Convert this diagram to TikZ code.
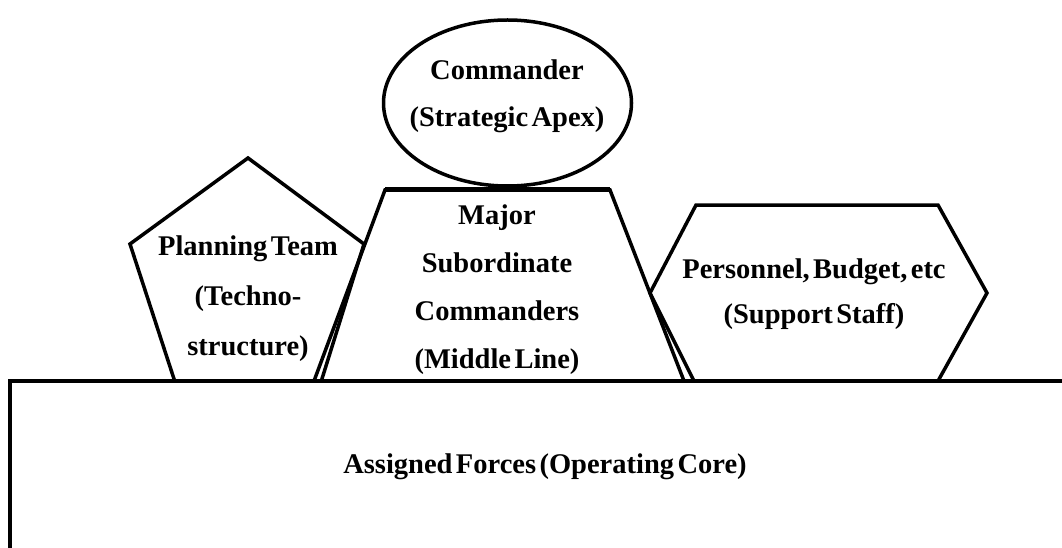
\documentclass[tikz,border=0pt]{standalone}
\usepackage{fontspec}
\setmainfont{Liberation Serif}
\newcommand\lblfont[1]{\fontsize{28.5}{#1}\selectfont\bfseries\spaceskip=0.12em plus 0.05em\relax}
\begin{document}
\begin{tikzpicture}[x=1pt,y=-1pt,
  shapeline/.style={draw=black,line width=3.5pt,line join=miter,fill=white},
  lbl/.style={align=center,inner sep=0pt,font=\lblfont{47}},
]
\useasboundingbox (0,0) rectangle (1062,548);
\clip (0,0) rectangle (1062,548);
% pentagon (Technostructure)
\draw[shapeline] (248,158) -- (364,244) -- (321,382) -- (175,382) -- (130,244) -- cycle;
% hexagon (Support Staff)
\draw[shapeline] (696,205) -- (938,205) -- (987,293) -- (938,381) -- (694,381) -- (650,293) -- cycle;
% trapezoid (Middle Line)
\draw[shapeline,fill=none] (385,190) -- (610,190) -- (684,381) -- (314,381) -- cycle;
\draw[line width=5pt] (385,190) -- (610,190);
% ellipse (Strategic Apex)
\draw[shapeline] (507.5,103) ellipse [x radius=124, y radius=83];
% operating core rectangle
\draw[shapeline,line width=4pt] (10,381) rectangle (1120,620);
% texts
\node[lbl] (apex) at (507,96) {Commander\\(Strategic Apex)};
\node[lbl,font=\lblfont{50}] (techno) at (248,299) {Planning Team\\(Techno-\\structure)};
\node[lbl,font=\lblfont{48}] (middle) at (497,290) {Major\\Subordinate\\Commanders\\(Middle Line)};
\node[lbl,font=\lblfont{45}] (support) at (814,294) {Personnel, Budget, etc\\(Support Staff)};
\node[lbl] (core) at (545,467) {Assigned Forces (Operating Core)};
\end{tikzpicture}
\end{document}
